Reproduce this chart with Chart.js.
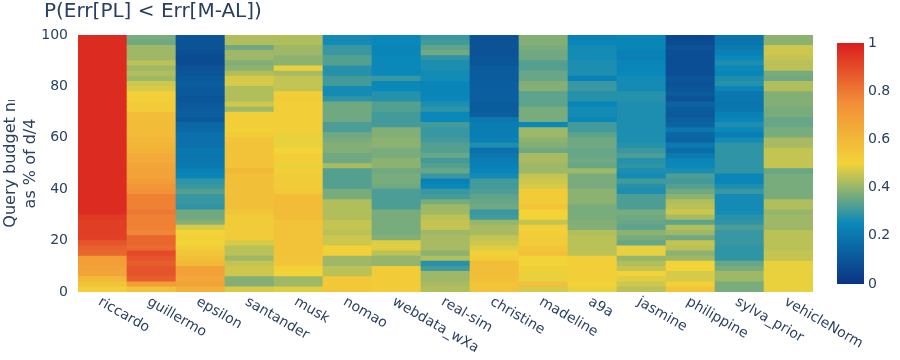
<!DOCTYPE html>
<html>
<head>
<meta charset="utf-8">
<title>P(Err[PL] < Err[M-AL])</title>
<script src="https://cdn.jsdelivr.net/npm/chart.js@4/dist/chart.umd.min.js"></script>
<style>
  html, body { margin: 0; padding: 0; background: #fff; }
  canvas { display: block; }
</style>
</head>
<body>
<canvas id="heatmap" width="900" height="360"></canvas>
<script>
const datasets_names = ["riccardo", "guillermo", "epsilon", "santander", "musk", "nomao", "webdata_wXa", "real-sim", "christine", "madeline", "a9a", "jasmine", "philippine", "sylva_prior", "vehicleNorm"];

// top edge of each row in %, values below run in this same order (top of chart first)
const rowTops = [100, 98, 96, 94, 92, 90, 88, 86, 84, 82, 80, 78, 76, 74, 72, 70, 68, 66, 64, 62, 60, 58, 56, 54, 52,
                 50, 48, 46, 44, 42, 40, 38, 36, 34, 32, 30, 28, 26, 24, 22, 20, 18, 16, 14, 12, 10, 8, 6, 4, 2];

const riccardo = [.97,.97,.97,.97,.97,.97,.97,.97,.97,.97,.97,.97,.97,.97,.97,.97,.97,.97,.97,.97,.97,.97,.97,.97,.97,
  .97,.97,.97,.97,.97,.97,.97,.97,.97,.97,.94,.93,.93,.93,.92,.88,.85,.84,.7,.69,.68,.67,.6,.56,.52];
const guillermo = [.37,.36,.41,.41,.41,.44,.41,.43,.41,.46,.47,.51,.52,.53,.53,.58,.58,.59,.59,.59,.6,.61,.62,.65,.65,
  .67,.68,.68,.7,.72,.74,.78,.78,.78,.8,.78,.78,.78,.77,.84,.84,.83,.9,.88,.86,.88,.88,.86,.7,.56];
const epsilon = [.1,.09,.09,.08,.07,.07,.09,.1,.11,.12,.11,.11,.1,.11,.12,.13,.11,.15,.16,.18,.18,.18,.2,.19,.2,
  .21,.23,.24,.29,.3,.33,.3,.3,.29,.36,.36,.38,.47,.5,.51,.5,.53,.55,.57,.6,.68,.68,.66,.68,.62];
const santander = [.43,.43,.36,.41,.41,.38,.39,.43,.47,.47,.43,.43,.43,.46,.41,.52,.52,.52,.51,.53,.55,.56,.56,.56,.56,
  .56,.6,.57,.57,.57,.57,.57,.57,.57,.55,.53,.53,.53,.53,.53,.47,.44,.44,.41,.45,.46,.46,.38,.38,.47];
const musk = [.43,.43,.41,.41,.39,.39,.49,.42,.45,.45,.45,.52,.53,.52,.52,.52,.52,.52,.52,.49,.49,.49,.5,.52,.52,
  .49,.52,.53,.53,.53,.54,.59,.59,.59,.59,.59,.56,.56,.56,.56,.56,.56,.56,.55,.55,.51,.5,.41,.41,.48];
const nomao = [.26,.26,.3,.3,.33,.33,.28,.28,.31,.31,.26,.26,.29,.36,.36,.36,.36,.32,.32,.36,.37,.38,.38,.36,.36,
  .42,.33,.33,.33,.33,.37,.37,.43,.43,.43,.43,.45,.45,.44,.46,.46,.51,.51,.41,.41,.44,.44,.54,.54,.54];
const webdata_wXa = [.25,.25,.24,.24,.25,.25,.25,.25,.3,.25,.25,.28,.28,.33,.33,.31,.31,.31,.38,.38,.39,.39,.37,.37,.39,
  .39,.36,.37,.37,.36,.32,.32,.32,.32,.37,.37,.37,.37,.37,.38,.48,.48,.44,.4,.4,.53,.53,.53,.53,.53];
const real_sim = [.3,.31,.34,.36,.29,.27,.27,.26,.26,.24,.24,.24,.25,.27,.29,.25,.25,.31,.3,.3,.31,.33,.33,.35,.31,
  .33,.35,.3,.23,.25,.3,.31,.37,.41,.41,.44,.45,.45,.41,.42,.42,.42,.39,.43,.28,.31,.41,.41,.42,.43];
const christine = [.09,.09,.09,.09,.1,.1,.12,.12,.12,.13,.13,.13,.13,.12,.12,.13,.2,.22,.22,.22,.23,.27,.18,.2,.22,
  .23,.24,.26,.31,.31,.32,.34,.35,.36,.3,.31,.4,.42,.42,.45,.46,.48,.51,.53,.58,.58,.58,.57,.55,.56];
const madeline = [.38,.38,.37,.36,.36,.33,.33,.35,.35,.38,.38,.34,.34,.34,.37,.37,.37,.25,.41,.41,.39,.38,.36,.42,.42,
  .41,.41,.45,.46,.47,.53,.53,.53,.55,.5,.5,.45,.52,.52,.53,.53,.55,.57,.5,.5,.52,.49,.49,.57,.47];
const a9a = [.23,.24,.26,.26,.26,.27,.27,.27,.23,.3,.3,.28,.28,.24,.26,.26,.24,.31,.31,.34,.36,.36,.35,.35,.36,
  .35,.41,.37,.37,.37,.39,.39,.39,.37,.37,.37,.38,.38,.43,.44,.44,.44,.44,.52,.52,.52,.52,.52,.5,.49];
const jasmine = [.24,.24,.24,.23,.23,.24,.24,.25,.26,.26,.26,.28,.28,.27,.27,.27,.27,.27,.27,.27,.27,.28,.3,.32,.28,
  .29,.27,.26,.31,.28,.27,.32,.32,.32,.37,.36,.35,.34,.39,.37,.35,.49,.49,.4,.43,.45,.5,.48,.46,.44];
const philippine = [.06,.07,.09,.08,.08,.08,.08,.08,.1,.09,.1,.12,.09,.14,.12,.11,.13,.14,.2,.15,.14,.21,.17,.21,.24,
  .25,.27,.32,.31,.33,.36,.39,.43,.44,.46,.42,.34,.43,.41,.36,.45,.44,.39,.41,.5,.5,.47,.47,.51,.55];
const sylva_prior = [.19,.19,.21,.23,.25,.27,.25,.24,.27,.28,.24,.2,.2,.19,.2,.23,.24,.27,.25,.22,.26,.29,.29,.29,.29,
  .29,.29,.24,.24,.27,.3,.26,.26,.26,.26,.28,.29,.32,.3,.3,.3,.29,.29,.29,.35,.37,.41,.41,.37,.37];
const vehicleNorm = [.39,.39,.46,.46,.45,.44,.44,.37,.36,.43,.43,.38,.38,.38,.37,.37,.35,.35,.37,.37,.42,.42,.45,.45,.45,
  .45,.35,.37,.37,.37,.37,.37,.43,.43,.4,.41,.41,.41,.44,.44,.44,.44,.45,.45,.49,.49,.49,.49,.49,.49];

const columns = [riccardo, guillermo, epsilon, santander, musk, nomao, webdata_wXa, real_sim, christine, madeline, a9a, jasmine, philippine, sylva_prior, vehicleNorm];

const yTicks = [0, 20, 40, 60, 80, 100];
const colorbarTicks = [0, 0.2, 0.4, 0.6, 0.8, 1];

// plotly "Portland" colorscale
const portland = [[0, [12, 51, 131]], [0.25, [10, 136, 186]], [0.5, [242, 211, 56]], [0.75, [242, 143, 56]], [1, [217, 30, 30]]];

function colorFor(v) {
  for (let i = 1; i < portland.length; i++) {
    if (v <= portland[i][0]) {
      const [a, ca] = portland[i - 1];
      const [b, cb] = portland[i];
      const t = (v - a) / (b - a);
      const c = ca.map((x, k) => Math.round(x + (cb[k] - x) * t));
      return `rgb(${c[0]},${c[1]},${c[2]})`;
    }
  }
  return "rgb(217,30,30)";
}

const textColor = "#2a3f5f";
const fontFamily = "'DejaVu Sans', Verdana, sans-serif";

// every row is a bar from 0 up to its top edge; lower rows paint over taller ones so no seams show
const rowDatasets = rowTops.map((top, r) => ({
  label: "row " + top,
  data: datasets_names.map(() => top),
  backgroundColor: columns.map(col => colorFor(col[r])),
  order: top,
  grouped: false,
  barPercentage: 1,
  categoryPercentage: 1,
  borderWidth: 0
}));

// title, slanted x labels and colorbar
const extras = {
  id: "extras",
  afterDraw(chart) {
    const ctx = chart.ctx;
    const xScale = chart.scales.x;
    ctx.save();
    ctx.fillStyle = textColor;

    ctx.font = "20px " + fontFamily;
    ctx.textAlign = "left";
    ctx.textBaseline = "alphabetic";
    ctx.fillText("P(Err[PL] < Err[M-AL])", 44, 17);

    ctx.font = "14px " + fontFamily;
    datasets_names.forEach((name, i) => {
      ctx.save();
      ctx.translate(xScale.getPixelForTick(i) - 5, 304);
      ctx.rotate(30 * Math.PI / 180);
      ctx.fillText(name, 0, 0);
      ctx.restore();
    });

    const barTop = 43, barBottom = 284, barLeft = 837, barRight = 864;
    const grad = ctx.createLinearGradient(0, barBottom, 0, barTop);
    portland.forEach(([stop, c]) => grad.addColorStop(stop, `rgb(${c[0]},${c[1]},${c[2]})`));
    ctx.fillStyle = grad;
    ctx.fillRect(barLeft, barTop, barRight - barLeft, barBottom - barTop);

    ctx.fillStyle = textColor;
    ctx.textBaseline = "middle";
    colorbarTicks.forEach(t => {
      ctx.fillText(String(t), 868, barBottom - t * (barBottom - barTop));
    });
    ctx.restore();
  }
};

new Chart(document.getElementById("heatmap").getContext("2d"), {
  type: "bar",
  data: { labels: datasets_names, datasets: rowDatasets },
  plugins: [extras],
  options: {
    responsive: false,
    maintainAspectRatio: false,
    animation: false,
    layout: { padding: { top: 35, right: 87, left: 0, bottom: 0 } },
    plugins: {
      legend: { display: false },
      title: { display: false },
      tooltip: { enabled: false }
    },
    scales: {
      x: {
        grid: { display: false },
        border: { display: false },
        ticks: { display: false },
        afterFit(s) { s.height = 68; }
      },
      y: {
        min: 0,
        max: 100,
        grid: { display: false },
        border: { display: false },
        afterBuildTicks(s) { s.ticks = yTicks.map(v => ({ value: v })); },
        afterFit(s) { s.width = 78; },
        ticks: {
          color: textColor,
          padding: 2,
          font: { family: fontFamily, size: 14 }
        },
        title: {
          display: true,
          text: ["Query budget n\u2097", "as % of d/4"],
          color: textColor,
          padding: { top: 0, bottom: 0 },
          font: { family: fontFamily, size: 16, lineHeight: 1.3 }
        }
      }
    }
  }
});
</script>
</body>
</html>
